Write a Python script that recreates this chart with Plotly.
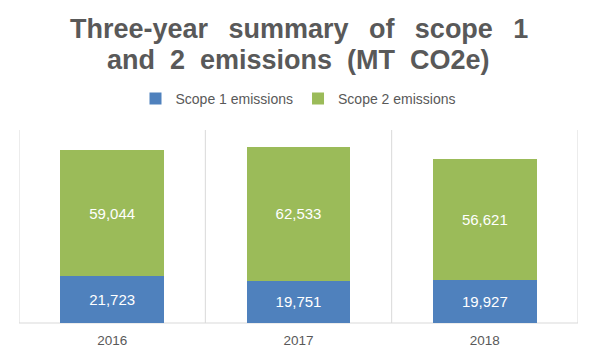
import plotly.graph_objects as go

years = ["2016", "2017", "2018"]
scope1 = [21723, 19751, 19927]
scope2 = [59044, 62533, 56621]
title_lines = ["Three-year \u2009 summary \u2009 of \u2009 scope \u2009 1", "and  2  emissions  (MT  CO2e)"]

FONT = "Liberation Sans, Arial, sans-serif"

fig = go.Figure()
fig.add_trace(go.Bar(
    x=years, y=scope1, name="Scope 1 emissions",
    marker=dict(color="#4f81bd", line=dict(width=0)),
    text=[f"{v:,}" for v in scope1], textposition="inside",
    insidetextanchor="middle",
    textfont=dict(color="white", size=15, family=FONT),
))
fig.add_trace(go.Bar(
    x=years, y=scope2, name="Scope 2 emissions",
    marker=dict(color="#9bbb59", line=dict(width=0)),
    text=[f"{v:,}" for v in scope2], textposition="inside",
    insidetextanchor="middle",
    textfont=dict(color="white", size=15, family=FONT),
))

grid = "#d9d9d9"
shapes = []
for i in range(len(years) + 1):
    shapes.append(dict(type="line", xref="x", yref="paper", x0=i - 0.5, x1=i - 0.5,
                       y0=0, y1=1, line=dict(color=grid, width=1), layer="below"))
shapes.append(dict(type="line", xref="paper", yref="paper", x0=0, x1=1, y0=0, y1=0,
                   line=dict(color=grid, width=1), layer="below"))

annotations = []
for line, yy in zip(title_lines, [1.523, 1.363]):
    annotations.append(dict(
        text=f"<b>{line}</b>", xref="paper", yref="paper", x=0.5, y=yy,
        xanchor="center", yanchor="middle", showarrow=False,
        font=dict(size=27, color="#595959", family=FONT),
    ))

fig.update_layout(
    width=597, height=358,
    barmode="stack", bargap=0.443,
    paper_bgcolor="white", plot_bgcolor="white",
    margin=dict(l=11, r=27, t=122, b=43, autoexpand=False),
    font=dict(family=FONT, color="#595959"),
    legend=dict(orientation="h", x=0.5, xanchor="center", y=1.161, yanchor="middle",
                font=dict(size=14, color="#595959"), traceorder="normal"),
    xaxis=dict(showgrid=False, showline=False, ticks="outside", ticklen=5,
               tickcolor="rgba(0,0,0,0)", range=[-0.5, 2.5],
               tickfont=dict(size=13.5, color="#595959")),
    yaxis=dict(range=[0, 90000], showgrid=False, showticklabels=False,
               zeroline=False, showline=False),
    shapes=shapes,
    annotations=annotations,
    showlegend=True,
)

fig.write_html("out.html")
